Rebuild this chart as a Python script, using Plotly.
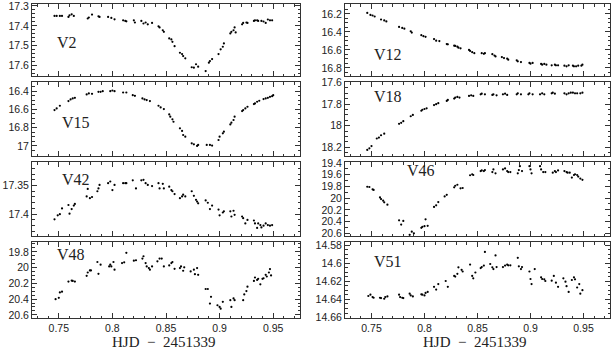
import plotly.graph_objects as go

# light curves (HJD - 2451339, magnitude)
v2_t = [0.746, 0.748, 0.751, 0.753, 0.759, 0.760, 0.762, 0.764, 0.777, 0.778, 0.781, 0.787, 0.788,
        0.796, 0.799, 0.802, 0.810, 0.812, 0.813, 0.820, 0.821, 0.827, 0.829, 0.831, 0.833, 0.837,
        0.843, 0.844, 0.847, 0.848, 0.853, 0.855, 0.856, 0.858, 0.863, 0.865, 0.866, 0.868,
        0.874, 0.876, 0.878, 0.880, 0.887, 0.890, 0.891, 0.893, 0.899, 0.901, 0.903, 0.904,
        0.910, 0.911, 0.913, 0.914, 0.915, 0.921, 0.922, 0.925, 0.926,
        0.932, 0.933, 0.935, 0.936, 0.939, 0.941, 0.943, 0.945, 0.947, 0.949]
v2_mag = [17.350, 17.350, 17.350, 17.350, 17.355, 17.347, 17.342, 17.350, 17.363, 17.358, 17.343, 17.352, 17.355,
          17.355, 17.360, 17.367, 17.372, 17.375, 17.377, 17.372, 17.383, 17.375, 17.388, 17.383, 17.392, 17.385,
          17.402, 17.408, 17.422, 17.430, 17.463, 17.468, 17.480, 17.502, 17.535, 17.542, 17.552, 17.563,
          17.608, 17.610, 17.593, 17.605, 17.627, 17.585, 17.577, 17.567, 17.542, 17.518, 17.505, 17.488,
          17.438, 17.430, 17.422, 17.408, 17.433, 17.392, 17.385, 17.383, 17.385,
          17.375, 17.372, 17.372, 17.375, 17.375, 17.378, 17.385, 17.368, 17.372, 17.372]

v12_t = [0.746, 0.749, 0.751, 0.753, 0.759, 0.762, 0.764, 0.776, 0.779, 0.781, 0.787, 0.788,
         0.797, 0.799, 0.801, 0.809, 0.811, 0.814, 0.821, 0.822, 0.828, 0.829, 0.831, 0.832, 0.834,
         0.842, 0.843, 0.845, 0.847, 0.854, 0.856, 0.857, 0.864, 0.866, 0.867, 0.873, 0.875, 0.878, 0.879,
         0.887, 0.888, 0.891, 0.899, 0.900, 0.902, 0.910, 0.911, 0.913, 0.915, 0.920, 0.923, 0.924, 0.926,
         0.932, 0.934, 0.936, 0.940, 0.941, 0.943, 0.945, 0.948, 0.949]
v12_mag = [16.189, 16.211, 16.218, 16.229, 16.262, 16.273, 16.284, 16.345, 16.356, 16.364, 16.393, 16.407,
           16.436, 16.447, 16.455, 16.480, 16.498, 16.502, 16.535, 16.538, 16.553, 16.556, 16.564, 16.575, 16.582,
           16.600, 16.611, 16.625, 16.636, 16.636, 16.644, 16.636, 16.647, 16.662, 16.673, 16.680, 16.691, 16.698, 16.709,
           16.716, 16.727, 16.735, 16.745, 16.753, 16.745, 16.756, 16.764, 16.756, 16.764, 16.771, 16.764, 16.771, 16.771,
           16.775, 16.782, 16.771, 16.775, 16.782, 16.782, 16.775, 16.775, 16.764]

v15_t = [0.746, 0.748, 0.751, 0.759, 0.761, 0.763, 0.765, 0.776, 0.778, 0.781, 0.787, 0.789, 0.791,
         0.798, 0.800, 0.802, 0.810, 0.813, 0.819, 0.821, 0.828, 0.830, 0.832, 0.835, 0.843, 0.845, 0.848,
         0.853, 0.854, 0.856, 0.857, 0.863, 0.865, 0.866, 0.868, 0.874, 0.876, 0.879, 0.880,
         0.888, 0.891, 0.893, 0.899, 0.900, 0.903, 0.904, 0.910, 0.911, 0.913, 0.914,
         0.921, 0.922, 0.924, 0.926, 0.932, 0.933, 0.935, 0.937, 0.941, 0.943, 0.945, 0.947, 0.949, 0.950]
v15_mag = [16.607, 16.589, 16.560, 16.509, 16.491, 16.480, 16.473, 16.436, 16.425, 16.429, 16.407, 16.407, 16.400,
           16.400, 16.393, 16.400, 16.415, 16.415, 16.444, 16.451, 16.480, 16.491, 16.498, 16.509, 16.560, 16.578, 16.596,
           16.655, 16.680, 16.709, 16.735, 16.807, 16.836, 16.880, 16.898, 16.971, 16.982, 17.000, 16.989,
           16.989, 16.989, 16.996, 16.935, 16.898, 16.862, 16.844, 16.764, 16.745, 16.716, 16.680,
           16.618, 16.607, 16.589, 16.571, 16.542, 16.535, 16.516, 16.505, 16.487, 16.480, 16.473, 16.462, 16.455, 16.444]

v18_t = [0.746, 0.748, 0.750, 0.755, 0.757, 0.759, 0.762, 0.776, 0.778, 0.780, 0.787, 0.789,
         0.797, 0.798, 0.800, 0.802, 0.809, 0.811, 0.813, 0.821, 0.822, 0.828, 0.829, 0.831, 0.833,
         0.842, 0.844, 0.846, 0.853, 0.854, 0.857, 0.864, 0.865, 0.868, 0.874, 0.876, 0.878,
         0.887, 0.888, 0.891, 0.898, 0.899, 0.902, 0.909, 0.911, 0.913, 0.920, 0.921, 0.923,
         0.932, 0.934, 0.936, 0.938, 0.940, 0.942, 0.944, 0.947, 0.949]
v18_mag = [18.224, 18.209, 18.188, 18.118, 18.109, 18.088, 18.073, 17.982, 17.973, 17.958, 17.912, 17.900,
           17.861, 17.852, 17.845, 17.839, 17.809, 17.800, 17.791, 17.770, 17.761, 17.748, 17.739, 17.733, 17.739,
           17.724, 17.718, 17.724, 17.709, 17.703, 17.709, 17.715, 17.709, 17.718, 17.709, 17.703, 17.715,
           17.709, 17.700, 17.709, 17.709, 17.700, 17.709, 17.709, 17.700, 17.709, 17.700, 17.694, 17.703,
           17.700, 17.709, 17.700, 17.694, 17.694, 17.700, 17.700, 17.700, 17.694]

v42_t = [0.746, 0.749, 0.751, 0.753, 0.759, 0.760, 0.762, 0.764, 0.765, 0.776, 0.777, 0.779, 0.781,
         0.786, 0.787, 0.788, 0.796, 0.798, 0.800, 0.802, 0.810, 0.812, 0.813, 0.819, 0.822,
         0.827, 0.829, 0.831, 0.833, 0.837, 0.843, 0.844, 0.847, 0.848, 0.853, 0.855, 0.856, 0.858,
         0.863, 0.865, 0.866, 0.868, 0.874, 0.876, 0.878, 0.879, 0.880, 0.887, 0.889, 0.891, 0.893,
         0.899, 0.900, 0.903, 0.904, 0.910, 0.911, 0.913, 0.914, 0.921, 0.922, 0.924, 0.926,
         0.932, 0.933, 0.935, 0.936, 0.938, 0.939, 0.941, 0.943, 0.945, 0.947, 0.949]
v42_mag = [17.409, 17.402, 17.400, 17.390, 17.384, 17.399, 17.391, 17.385, 17.382, 17.369, 17.356, 17.372, 17.370,
           17.360, 17.355, 17.349, 17.346, 17.343, 17.358, 17.349, 17.346, 17.346, 17.346, 17.341, 17.355,
           17.341, 17.340, 17.346, 17.349, 17.351, 17.346, 17.355, 17.347, 17.355, 17.352, 17.358, 17.360, 17.365,
           17.372, 17.369, 17.366, 17.369, 17.360, 17.368, 17.375, 17.378, 17.381, 17.376, 17.380, 17.391, 17.385,
           17.392, 17.402, 17.397, 17.395, 17.395, 17.404, 17.394, 17.401, 17.404, 17.407, 17.416, 17.410,
           17.411, 17.416, 17.424, 17.416, 17.419, 17.423, 17.420, 17.416, 17.419, 17.420, 17.419]

v46_t = [0.746, 0.748, 0.751, 0.752, 0.758, 0.759, 0.761, 0.762, 0.765, 0.776, 0.778, 0.780,
         0.786, 0.788, 0.790, 0.797, 0.798, 0.800, 0.801, 0.803, 0.809, 0.811, 0.813, 0.819, 0.821,
         0.828, 0.829, 0.831, 0.834, 0.836, 0.843, 0.845, 0.846, 0.853, 0.854, 0.856, 0.857,
         0.864, 0.865, 0.867, 0.874, 0.876, 0.878, 0.879, 0.881, 0.888, 0.889, 0.890, 0.892,
         0.899, 0.900, 0.901, 0.909, 0.910, 0.912, 0.914, 0.921, 0.923, 0.924, 0.926,
         0.932, 0.934, 0.935, 0.937, 0.939, 0.941, 0.942, 0.944, 0.945, 0.947, 0.949]
v46_mag = [19.806, 19.811, 19.850, 19.861, 19.989, 20.017, 20.044, 20.072, 20.111, 20.378, 20.450, 20.389,
           20.625, 20.572, 20.600, 20.506, 20.489, 20.478, 20.361, 20.472, 20.150, 20.122, 20.067, 19.972, 19.944,
           19.817, 19.789, 19.772, 19.833, 19.828, 19.611, 19.594, 19.606, 19.539, 19.528, 19.539, 19.522,
           19.556, 19.511, 19.578, 19.511, 19.494, 19.539, 19.556, 19.556, 19.578, 19.522, 19.456, 19.539,
           19.456, 19.511, 19.578, 19.456, 19.511, 19.556, 19.556, 19.567, 19.539, 19.556, 19.528,
           19.539, 19.556, 19.567, 19.567, 19.650, 19.606, 19.594, 19.606, 19.633, 19.667, 19.689]

v48_t = [0.747, 0.750, 0.751, 0.753, 0.759, 0.762, 0.763, 0.765, 0.776, 0.777, 0.779, 0.780,
         0.786, 0.787, 0.789, 0.797, 0.798, 0.799, 0.801, 0.802, 0.809, 0.811, 0.813, 0.820, 0.822,
         0.828, 0.829, 0.831, 0.832, 0.834, 0.835, 0.837, 0.842, 0.844, 0.846, 0.848, 0.853, 0.855, 0.856, 0.858,
         0.863, 0.864, 0.866, 0.867, 0.873, 0.876, 0.877, 0.879, 0.880, 0.887, 0.889, 0.891, 0.892,
         0.898, 0.900, 0.901, 0.903, 0.910, 0.911, 0.913, 0.914, 0.922, 0.923, 0.925, 0.926,
         0.932, 0.933, 0.935, 0.936, 0.938, 0.940, 0.941, 0.943, 0.944, 0.946, 0.947, 0.948]
v48_mag = [20.401, 20.384, 20.315, 20.306, 20.178, 20.165, 20.169, 20.178, 20.105, 20.062, 20.036, 20.036,
           19.929, 20.079, 19.963, 19.985, 19.963, 19.985, 19.929, 20.027, 19.942, 19.933, 19.813, 19.912, 19.907,
           19.886, 19.856, 19.942, 19.985, 20.006, 20.027, 19.985, 19.920, 19.886, 19.886, 19.985, 19.972, 19.942, 19.929, 20.015,
           20.006, 19.985, 20.040, 19.997, 20.049, 20.027, 20.083, 20.006, 20.092, 20.272, 20.272, 20.457, 20.371,
           20.478, 20.500, 20.521, 20.435, 20.414, 20.500, 20.392, 20.414, 20.414, 20.341, 20.298, 20.242,
           20.169, 20.126, 20.156, 20.143, 20.212, 20.143, 20.135, 20.092, 20.113, 20.062, 20.019, 20.100]

v51_t = [0.747, 0.749, 0.751, 0.752, 0.758, 0.759, 0.762, 0.763, 0.765, 0.776, 0.777, 0.779, 0.780,
         0.786, 0.787, 0.789, 0.797, 0.798, 0.800, 0.801, 0.803, 0.809, 0.811, 0.813, 0.820, 0.822,
         0.828, 0.829, 0.831, 0.832, 0.835, 0.836, 0.843, 0.845, 0.846, 0.848, 0.853, 0.854, 0.856, 0.857,
         0.862, 0.864, 0.865, 0.867, 0.868, 0.874, 0.876, 0.878, 0.879, 0.881, 0.888, 0.889, 0.891, 0.892,
         0.899, 0.900, 0.901, 0.904, 0.910, 0.911, 0.913, 0.914, 0.920, 0.922, 0.924, 0.926,
         0.931, 0.933, 0.934, 0.936, 0.939, 0.941, 0.942, 0.944, 0.946, 0.947, 0.949]
v51_mag = [14.6362, 14.6347, 14.6374, 14.6381, 14.6381, 14.6385, 14.6392, 14.6374, 14.6366, 14.6347, 14.6374, 14.6381, 14.6385,
           14.6336, 14.6355, 14.6366, 14.6343, 14.6347, 14.6355, 14.6328, 14.6317, 14.6260, 14.6291, 14.6230, 14.6196, 14.6260,
           14.6140, 14.6147, 14.6117, 14.6045, 14.6072, 14.6091, 14.6015, 14.6140, 14.6166, 14.6102, 14.6053, 14.6042, 14.6026, 14.5875,
           14.6008, 14.6045, 14.6064, 14.5913, 14.6042, 14.6042, 14.6026, 14.6015, 14.6023, 14.6023, 14.5940, 14.6034, 14.6064, 14.6042,
           14.6091, 14.6174, 14.6230, 14.6064, 14.6155, 14.6174, 14.6177, 14.6196, 14.6192, 14.6140, 14.6215, 14.6260,
           14.6166, 14.6204, 14.6253, 14.6317, 14.6185, 14.6155, 14.6177, 14.6268, 14.6230, 14.6336, 14.6298]

names = ["V2", "V12", "V15", "V18", "V42", "V46", "V48", "V51"]
times = [v2_t, v12_t, v15_t, v18_t, v42_t, v46_t, v48_t, v51_t]
mags = [v2_mag, v12_mag, v15_mag, v18_mag, v42_mag, v46_mag, v48_mag, v51_mag]

# per-panel y range (faint, bright), major and minor tick step
yranges = [[17.652, 17.29], [16.89, 16.09], [17.11, 16.30], [18.28, 17.595],
           [17.438, 17.309], [20.645, 19.385], [20.64, 19.675], [14.6605, 14.5765]]
ydticks = [0.1, 0.2, 0.2, 0.2, 0.05, 0.2, 0.2, 0.02]
yminor = [0.02, 0.05, 0.05, 0.05, 0.01, 0.1, 0.05, 0.005]
# label positions inside each panel (domain fractions)
label_pos = [(0.086, 0.46), (0.10, 0.30), (0.104, 0.45), (0.10, 0.81),
             (0.104, 0.77), (0.226, 0.88), (0.086, 0.83), (0.10, 0.74)]

W, H = 614, 350
col_px = [(32, 300), (345, 610)]
row_px = [(4, 76), (82, 156), (162, 236), (242, 318)]
line_col = "#333333"
tick_font = dict(family="Liberation Sans", size=10.5, color="#222222")
serif = "Liberation Serif"

fig = go.Figure()
layout = dict(width=W, height=H, margin=dict(l=0, r=0, t=0, b=0, autoexpand=False),
              paper_bgcolor="white", plot_bgcolor="white", showlegend=False)
annotations = []

for i in range(8):
    n = i + 1
    row, col = divmod(i, 2)
    xs = "x" if n == 1 else "x%d" % n
    ys = "y" if n == 1 else "y%d" % n
    fig.add_trace(go.Scatter(x=times[i], y=mags[i], mode="markers",
                             marker=dict(size=2.2, color="black"),
                             xaxis=xs, yaxis=ys, hoverinfo="skip"))
    x0, x1 = col_px[col]
    y0, y1 = row_px[row]
    common = dict(showline=True, linecolor=line_col, linewidth=1, mirror="allticks",
                  ticks="inside", ticklen=5, tickcolor=line_col, showgrid=False,
                  zeroline=False, tickfont=tick_font, automargin=False,
                  ticklabeloverflow="allow")
    layout["xaxis" if n == 1 else "xaxis%d" % n] = dict(
        common, domain=[x0 / W, x1 / W], range=[0.725, 0.975], anchor=ys,
        tick0=0.75, dtick=0.05, showticklabels=(row == 3),
        minor=dict(ticks="inside", dtick=0.01, ticklen=2.5, tickcolor=line_col, showgrid=False))
    layout["yaxis" if n == 1 else "yaxis%d" % n] = dict(
        common, domain=[1 - y1 / H, 1 - y0 / H], range=yranges[i], anchor=xs,
        tick0=0, dtick=ydticks[i],
        minor=dict(ticks="inside", dtick=yminor[i], ticklen=2.5, tickcolor=line_col, showgrid=False))
    lx, ly = label_pos[i]
    annotations.append(dict(text=names[i], xref=xs + " domain", yref=ys + " domain",
                            x=lx, y=ly, xanchor="left", yanchor="middle", showarrow=False,
                            font=dict(family=serif, size=16, color="#222222")))

for c in range(2):
    x0, x1 = col_px[c]
    annotations.append(dict(text="HJD  \u2212  2451339", xref="paper", yref="paper",
                            x=(x0 + x1) / 2 / W - 3 / W, y=1 - 342 / H, xanchor="center", yanchor="middle",
                            showarrow=False, font=dict(family=serif, size=15, color="#222222")))

layout["annotations"] = annotations
fig.update_layout(layout)
# the page body has a default 8px margin; drop it so the figure fills the window
fig.write_html("out.html", config={"displayModeBar": False},
               post_script="document.body.style.margin='0';document.body.style.overflow='hidden';")
